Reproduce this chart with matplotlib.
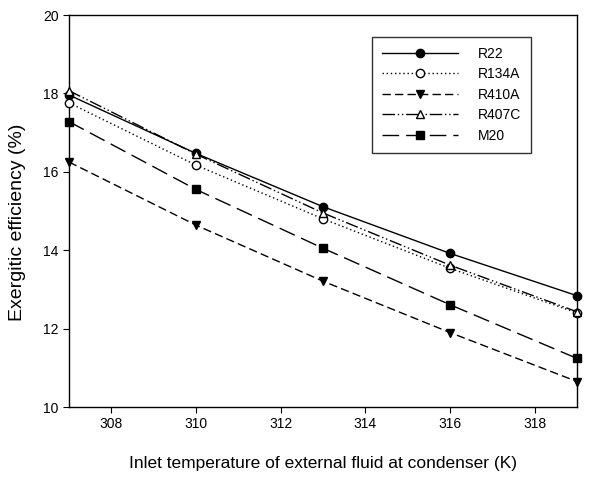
import matplotlib
matplotlib.use("Agg")
from matplotlib import pyplot as plt

plt.rcParams["font.family"] = ["Liberation Sans", "DejaVu Sans"]

temps = [307, 310, 313, 316, 319]
r22 = [17.96, 16.47, 15.11, 13.92, 12.84]
r134a = [17.76, 16.17, 14.80, 13.54, 12.40]
r410a = [16.25, 14.64, 13.21, 11.90, 10.65]
r407c = [18.07, 16.45, 14.95, 13.62, 12.43]
m20 = [17.28, 15.55, 14.05, 12.61, 11.24]

fig = plt.figure(figsize=(5.9, 4.78), dpi=100)
ax = fig.add_axes([0.117, 0.1485, 0.861, 0.82])

kw = dict(color="black", lw=1.0, markersize=6, clip_on=False, zorder=3)
ax.plot(temps, r22, linestyle="-", marker="o", label="R22", **kw)
ax.plot(temps, r134a, linestyle=(0, (1, 2)), marker="o", markerfacecolor="white", label="R134A", **kw)
ax.plot(temps, r410a, linestyle=(0, (6, 3)), marker="v", label="R410A", **kw)
ax.plot(temps, r407c, linestyle=(0, (9, 2, 1, 2, 1, 2)), marker="^", markerfacecolor="white", label="R407C", **kw)
ax.plot(temps, m20, linestyle=(0, (12, 5)), marker="s", label="M20", **kw)

ax.set_xlim(307, 319)
ax.set_ylim(10, 20)
ax.set_xticks([308, 310, 312, 314, 316, 318])
ax.set_yticks([10, 12, 14, 16, 18, 20])
ax.tick_params(direction="out", length=4, width=0.8, labelsize=10, top=False, right=False)
for s in ax.spines.values():
    s.set_linewidth(1.0)

ax.set_xlabel("Inlet temperature of external fluid at condenser (K)", fontsize=12.5)
ax.set_ylabel("Exergitic efficiency (%)", fontsize=14)
ax.xaxis.set_label_coords(0.5, -0.125)
ax.yaxis.set_label_coords(-0.085, 0.472)

leg = ax.legend(loc="upper left", bbox_to_anchor=(0.5965, 0.944), frameon=True, fancybox=False,
                edgecolor="black", fontsize=10, handlelength=5.5, labelspacing=0.47,
                borderpad=0.7, handletextpad=1.45, borderaxespad=0)
leg.get_frame().set_linewidth(1.0)

fig.savefig("out.png", dpi=100)
